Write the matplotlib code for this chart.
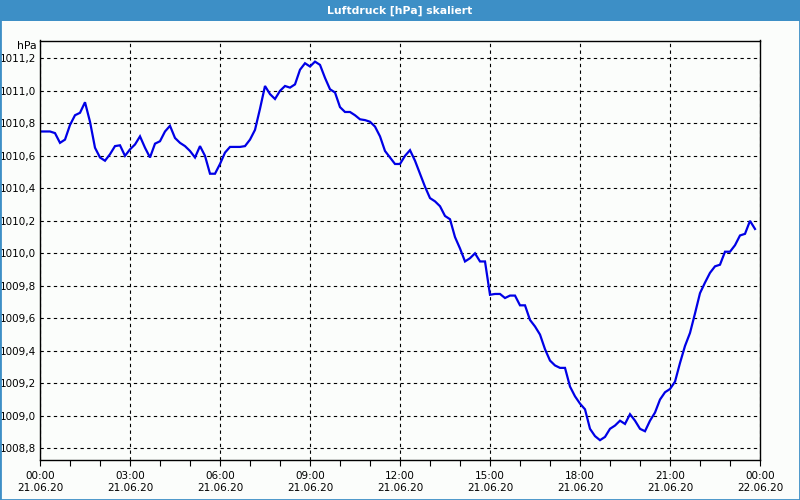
import matplotlib
matplotlib.use("Agg")
import matplotlib.pyplot as plt
from matplotlib.patches import Rectangle
from matplotlib.ticker import MultipleLocator, FixedLocator
import pandas as pd

# pressure readings, 10 minute steps from 21.06.20 00:00
pressure = [
    1010.75, 1010.75, 1010.75, 1010.74, 1010.68, 1010.70,
    1010.79, 1010.85, 1010.865, 1010.93, 1010.81, 1010.65,
    1010.59, 1010.57, 1010.61, 1010.66, 1010.665, 1010.60,
    1010.64, 1010.67, 1010.72, 1010.65, 1010.59, 1010.675,
    1010.69, 1010.75, 1010.785, 1010.71, 1010.68, 1010.66,
    1010.63, 1010.59, 1010.66, 1010.60, 1010.49, 1010.49,
    1010.55, 1010.62, 1010.655, 1010.655, 1010.655, 1010.66,
    1010.70, 1010.76, 1010.89, 1011.03, 1010.98, 1010.95,
    1011.00, 1011.03, 1011.02, 1011.04, 1011.13, 1011.17,
    1011.15, 1011.18, 1011.16, 1011.08, 1011.01, 1010.99,
    1010.90, 1010.87, 1010.87, 1010.85, 1010.825, 1010.82,
    1010.81, 1010.78, 1010.72, 1010.63, 1010.59, 1010.55,
    1010.55, 1010.60, 1010.635, 1010.57, 1010.49, 1010.41,
    1010.34, 1010.32, 1010.29, 1010.23, 1010.21, 1010.10,
    1010.03, 1009.95, 1009.97, 1010.00, 1009.95, 1009.95,
    1009.745, 1009.75, 1009.75, 1009.725, 1009.74, 1009.74,
    1009.68, 1009.68, 1009.59, 1009.55, 1009.50, 1009.41,
    1009.34, 1009.31, 1009.295, 1009.295, 1009.18, 1009.12,
    1009.075, 1009.04, 1008.92, 1008.875, 1008.85, 1008.87,
    1008.92, 1008.94, 1008.97, 1008.95, 1009.01, 1008.97,
    1008.92, 1008.905, 1008.97, 1009.02, 1009.10, 1009.145,
    1009.165, 1009.21, 1009.325, 1009.43, 1009.51, 1009.63,
    1009.755, 1009.82, 1009.88, 1009.92, 1009.93, 1010.01,
    1010.01, 1010.05, 1010.11, 1010.12, 1010.20, 1010.15,
]
times = pd.date_range("2020-06-21 00:00", periods=len(pressure), freq="10min")
hours = [(t - times[0]).total_seconds() / 3600.0 for t in times]

tick_hours = [0, 3, 6, 9, 12, 15, 18, 21, 24]
tick_labels = ["00:00\n21.06.20", "03:00\n21.06.20", "06:00\n21.06.20",
               "09:00\n21.06.20", "12:00\n21.06.20", "15:00\n21.06.20",
               "18:00\n21.06.20", "21:00\n21.06.20", "00:00\n22.06.20"]
y_ticks = [1008.8, 1009.0, 1009.2, 1009.4, 1009.6, 1009.8,
           1010.0, 1010.2, 1010.4, 1010.6, 1010.8, 1011.0, 1011.2]

title = "Luftdruck [hPa] skaliert"
unit = "hPa"

bar_blue = "#3d8fc6"
bg = "#fbfdfb"
plt.rcParams['font.family'] = ['DejaVu Sans']

fig = plt.figure(figsize=(8, 5), dpi=100, facecolor=bg)
fig.patches.append(Rectangle((0, 1 - 21 / 500), 1, 21 / 500, transform=fig.transFigure,
                             facecolor=bar_blue, edgecolor="none", zorder=0))
fig.patches.append(Rectangle((0, 0), 1, 1, transform=fig.transFigure, fill=False,
                             edgecolor=bar_blue, lw=2, zorder=5))
fig.text(0.5, 1 - 10.5 / 500, title, color="white", fontsize=7.8, fontweight="bold",
         ha="center", va="center")

ax = fig.add_axes([40 / 800, 40 / 500, 720 / 800, 419.5 / 500])
ax.set_facecolor(bg)
ax.plot(hours, pressure, color="#0000e6", lw=1.6, solid_joinstyle="miter")

ax.set_xlim(0, 24)
ax.set_ylim(1008.728, 1011.31)
ax.xaxis.set_major_locator(FixedLocator(tick_hours))
ax.set_xticklabels(tick_labels)
ax.xaxis.set_minor_locator(MultipleLocator(1))
ax.set_yticks(y_ticks)
ax.set_yticklabels([("%.1f" % v).replace(".", ",") for v in y_ticks])

ax.tick_params(axis="x", which="both", direction="out", length=4, width=0.8,
               pad=4, labelsize=7.5, colors="black")
ax.tick_params(axis="y", length=0, pad=3, labelsize=7.5)
ax.grid(True, which="major", color="black", lw=0.8, linestyle=(0, (3, 3)))
for s in ax.spines.values():
    s.set_linewidth(1.0)

ax.text(-0.005, 0.988, unit, transform=ax.transAxes, ha="right", va="center", fontsize=7.8)

fig.savefig("out.png", dpi=100, facecolor=bg)
